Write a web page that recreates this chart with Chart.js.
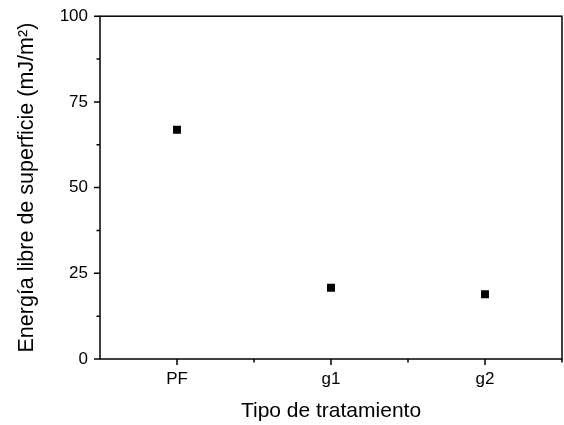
<!DOCTYPE html>
<html>
<head>
<meta charset="utf-8">
<script src="https://cdn.jsdelivr.net/npm/chart.js@4/dist/chart.umd.min.js"></script>
<style>
  html, body { margin: 0; padding: 0; background: #fff; }
  #wrap { width: 564px; height: 425px; }
</style>
</head>
<body>
<div id="wrap"><canvas id="chart" width="564" height="425"></canvas></div>
<script>
// datos
const categorias = ['PF', 'g1', 'g2'];
const energia = [66.9, 20.8, 18.9];
const yTicks = [0, 25, 50, 75, 100];
const yMinor = [12.5, 37.5, 62.5, 87.5];
const xMinor = [0.5, 1.5, 2.5];

const fuente = 'Arial, "Liberation Sans", sans-serif';

// marco + marcas de los ejes (hacia fuera)
const ejesPlugin = {
    id: 'ejes',
    afterDraw(chart) {
        const ctx = chart.ctx;
        const a = chart.chartArea;
        const xs = chart.scales.x;
        const ys = chart.scales.y;
        ctx.save();
        ctx.strokeStyle = '#000';
        ctx.lineWidth = 1.5;
        ctx.strokeRect(a.left, a.top, a.right - a.left, a.bottom - a.top);

        ctx.beginPath();
        yTicks.forEach(v => {
            const y = ys.getPixelForValue(v);
            ctx.moveTo(a.left, y); ctx.lineTo(a.left - 6, y);
        });
        yMinor.forEach(v => {
            const y = ys.getPixelForValue(v);
            ctx.moveTo(a.left, y); ctx.lineTo(a.left - 3.5, y);
        });
        categorias.forEach((c, i) => {
            const x = xs.getPixelForValue(i);
            ctx.moveTo(x, a.bottom); ctx.lineTo(x, a.bottom + 6);
        });
        xMinor.forEach(v => {
            const x = xs.getPixelForValue(v);
            ctx.moveTo(x, a.bottom); ctx.lineTo(x, a.bottom + 3.5);
        });
        ctx.stroke();
        ctx.restore();
    }
};

const ctx = document.getElementById('chart').getContext('2d');
const chart = new Chart(ctx, {
    type: 'scatter',
    data: {
        datasets: [{
            data: energia.map((v, i) => ({ x: i, y: v })),
            pointStyle: 'rect',
            pointRadius: 5.6,
            pointHoverRadius: 5.6,
            backgroundColor: '#000',
            borderWidth: 0
        }]
    },
    options: {
        responsive: false,
        animation: false,
        layout: { autoPadding: false, padding: { top: 15, right: 2, left: 0, bottom: 0 } },
        plugins: { legend: { display: false }, tooltip: { enabled: false } },
        scales: {
            x: {
                type: 'linear',
                min: -0.5,
                max: 2.5,
                grid: { display: false, drawTicks: true, tickLength: 6 },
                border: { display: false },
                afterBuildTicks: s => { s.ticks = categorias.map((c, i) => ({ value: i })); },
                afterFit: s => { s.height = 66; },
                ticks: {
                    autoSkip: false,
                    maxRotation: 0,
                    padding: 4,
                    color: '#000',
                    font: { family: fuente, size: 17 },
                    callback: v => categorias[v]
                },
                title: {
                    display: true,
                    text: 'Tipo de tratamiento',
                    color: '#000',
                    font: { family: fuente, size: 21 },
                    padding: { top: 0, bottom: 1.5 }
                }
            },
            y: {
                min: 0,
                max: 100,
                grid: { display: false, drawTicks: true, tickLength: 6 },
                border: { display: false },
                afterBuildTicks: s => { s.ticks = yTicks.map(v => ({ value: v })); },
                afterFit: s => { s.width = 100; },
                ticks: {
                    padding: 6,
                    color: '#000',
                    font: { family: fuente, size: 17 }
                },
                title: {
                    display: true,
                    text: 'Energía libre de superficie (mJ/m²)',
                    color: '#000',
                    font: { family: fuente, size: 21.5 },
                    padding: { top: 14, bottom: 0 }
                }
            }
        }
    },
    plugins: [ejesPlugin]
});
</script>
</body>
</html>
